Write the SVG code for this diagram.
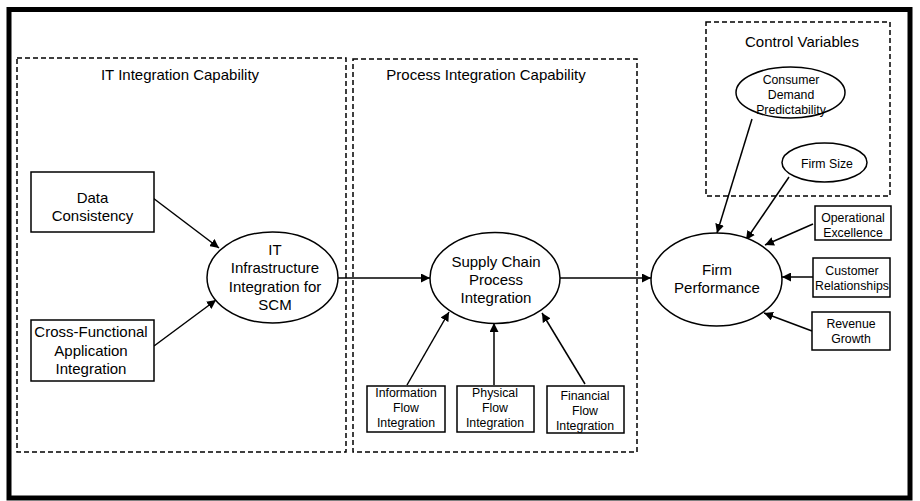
<svg xmlns="http://www.w3.org/2000/svg" width="920" height="501" viewBox="0 0 920 501">
<style>
text{font-family:"Liberation Sans",Arial,sans-serif;fill:#000;text-anchor:middle}
.t15{font-size:15px}
.t12{font-size:12.3px}
.box{fill:#fff;stroke:#000;stroke-width:1.5}
.dash{fill:none;stroke:#000;stroke-width:1.5;stroke-dasharray:5 3}
.conn{fill:none;stroke:#000;stroke-width:1.5;marker-end:url(#ah)}
</style>
<defs>
<marker id="ah" viewBox="0 0 10 10" refX="10" refY="5" markerWidth="9" markerHeight="9" markerUnits="userSpaceOnUse" orient="auto">
<path d="M0,0 L10,5 L0,10 z" fill="#000"/>
</marker>
</defs>
<rect x="0" y="0" width="920" height="501" fill="#fff"/>
<rect x="9" y="9.5" width="901" height="488.5" fill="none" stroke="#000" stroke-width="5"/>

<g id="group-it">
<rect class="dash" x="17" y="58" width="329" height="394"/>
<text class="t15" x="180" y="80">IT Integration Capability</text>
</g>
<g id="group-process">
<rect class="dash" x="353" y="59" width="284" height="393"/>
<text class="t15" x="486" y="80">Process Integration Capability</text>
</g>
<g id="group-control">
<rect class="dash" x="706" y="22" width="184" height="174"/>
<text class="t15" x="802" y="47">Control Variables</text>
</g>

<g id="connectors">
<line class="conn" x1="153" y1="198" x2="219" y2="248"/>
<line class="conn" x1="154" y1="346" x2="216" y2="300"/>
<line class="conn" x1="338" y1="278" x2="430" y2="278"/>
<line class="conn" x1="560" y1="278" x2="651" y2="278"/>
<line class="conn" x1="407" y1="385" x2="449" y2="312"/>
<line class="conn" x1="494" y1="385" x2="494" y2="323"/>
<line class="conn" x1="585" y1="384" x2="542" y2="313"/>
<line class="conn" x1="752" y1="119" x2="717" y2="233"/>
<line class="conn" x1="789" y1="177" x2="746" y2="240"/>
<line class="conn" x1="813" y1="224" x2="765" y2="245"/>
<line class="conn" x1="813" y1="277" x2="782" y2="277"/>
<line class="conn" x1="812" y1="331" x2="764" y2="313"/>
</g>

<g id="data-consistency">
<rect class="box" x="31" y="172" width="123" height="60"/>
<text class="t15" x="92.5" y="203">Data</text>
<text class="t15" x="92.5" y="221">Consistency</text>
</g>
<g id="cross-functional">
<rect class="box" x="31" y="320" width="123" height="61"/>
<text class="t15" x="91" y="337">Cross-Functional</text>
<text class="t15" x="91" y="356">Application</text>
<text class="t15" x="91" y="374">Integration</text>
</g>
<g id="it-infrastructure">
<ellipse class="box" cx="272.5" cy="277.5" rx="65.5" ry="45.5"/>
<text class="t15" x="275" y="255">IT</text>
<text class="t15" x="275" y="273">Infrastructure</text>
<text class="t15" x="275" y="292">Integration for</text>
<text class="t15" x="275" y="310">SCM</text>
</g>
<g id="supply-chain">
<ellipse class="box" cx="495" cy="278" rx="65" ry="45.5"/>
<text class="t15" x="496" y="267">Supply Chain</text>
<text class="t15" x="496" y="285">Process</text>
<text class="t15" x="496" y="303">Integration</text>
</g>
<g id="firm-performance">
<ellipse class="box" cx="716.5" cy="279.5" rx="65.5" ry="46.5"/>
<text class="t15" x="717" y="275">Firm</text>
<text class="t15" x="717" y="293">Performance</text>
</g>
<g id="information-flow">
<rect class="box" x="367" y="386" width="78" height="46"/>
<text class="t12" x="406" y="397">Information</text>
<text class="t12" x="406" y="412">Flow</text>
<text class="t12" x="406" y="427">Integration</text>
</g>
<g id="physical-flow">
<rect class="box" x="457" y="386" width="77" height="46"/>
<text class="t12" x="495" y="397">Physical</text>
<text class="t12" x="495" y="412">Flow</text>
<text class="t12" x="495" y="427">Integration</text>
</g>
<g id="financial-flow">
<rect class="box" x="547" y="386" width="77" height="47"/>
<text class="t12" x="585" y="400">Financial</text>
<text class="t12" x="585" y="415">Flow</text>
<text class="t12" x="585" y="430">Integration</text>
</g>
<g id="consumer-demand">
<ellipse class="box" cx="790.5" cy="92.5" rx="54.5" ry="25.5"/>
<text class="t12" x="791" y="84">Consumer</text>
<text class="t12" x="791" y="99">Demand</text>
<text class="t12" x="791" y="114">Predictability</text>
</g>
<g id="firm-size">
<ellipse class="box" cx="824.5" cy="162.5" rx="42.5" ry="19.5"/>
<text class="t12" x="827" y="168">Firm Size</text>
</g>
<g id="operational-excellence">
<rect class="box" x="815" y="206" width="76" height="34"/>
<text class="t12" x="853" y="222">Operational</text>
<text class="t12" x="853" y="237">Excellence</text>
</g>
<g id="customer-relationships">
<rect class="box" x="813" y="258" width="77" height="39"/>
<text class="t12" x="852" y="275">Customer</text>
<text class="t12" x="852" y="290">Relationships</text>
</g>
<g id="revenue-growth">
<rect class="box" x="812" y="312" width="78" height="38"/>
<text class="t12" x="851" y="328">Revenue</text>
<text class="t12" x="851" y="343">Growth</text>
</g>
</svg>
